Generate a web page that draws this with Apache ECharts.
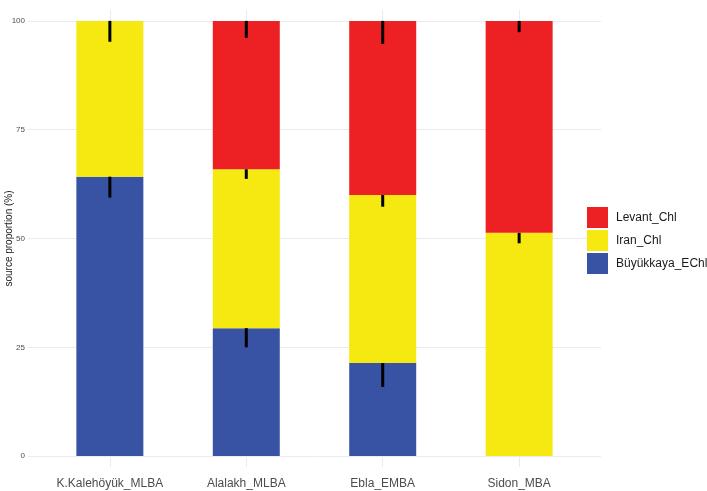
<!DOCTYPE html>
<html>
<head>
<meta charset="utf-8">
<script src="https://cdn.jsdelivr.net/npm/echarts@6/dist/echarts.min.js"></script>
<style>
  html, body { margin: 0; padding: 0; background: #fff; }
  #main { width: 707px; height: 491px; }
</style>
</head>
<body>
<div id="main"></div>
<script>
// 数据
const categories = ['K.Kalehöyük_MLBA', 'Alalakh_MLBA', 'Ebla_EMBA', 'Sidon_MBA'];
const buyukkaya = [64.2, 29.4, 21.4, 0];
const iran = [35.8, 36.5, 38.6, 51.3];
const levant = [0, 34.1, 40.0, 48.7];
// 误差线下端（累计值 - 标准误）
const errBuyukkaya = [59.4, 25.0, 15.9, null];
const errIran = [95.2, 63.7, 57.3, 48.9];
const errLevant = [null, 96.1, 94.7, 97.4];
const yTicks = [0, 25, 50, 75, 100];

const xPos = categories.map((c, i) => i + 1);
// 值放在第0列，让堆叠作用在y上
const pairs = arr => arr.map((v, i) => [v, xPos[i]]);

// 误差线数据: [x, 累计顶部, 下端]
const errData = [];
categories.forEach((c, i) => {
  const b = buyukkaya[i], ir = b + iran[i], lv = ir + levant[i];
  if (errBuyukkaya[i] != null) errData.push([xPos[i], b, errBuyukkaya[i]]);
  if (errIran[i] != null) errData.push([xPos[i], ir, errIran[i]]);
  if (errLevant[i] != null) errData.push([xPos[i], lv, errLevant[i]]);
});

const barSeries = (name, color, arr) => ({
  name: name, type: 'bar', stack: 'p', barWidth: 67,
  encode: { x: 1, y: 0 },
  itemStyle: { color: color },
  data: pairs(arr)
});

const myChart = echarts.init(document.getElementById('main'));
myChart.setOption({
  animation: false,
  textStyle: { fontFamily: 'Liberation Sans, Arial, sans-serif' },
  grid: { left: 28, right: 106, top: 10, bottom: 24, outerBoundsMode: 'none', containLabel: false },
  legend: {
    orient: 'vertical',
    left: 587,
    top: 207,
    itemWidth: 21,
    itemHeight: 21,
    itemGap: 2,
    icon: 'rect',
    backgroundColor: '#fff',
    padding: [0, 0, 0, 0],
    textStyle: { fontSize: 12, color: '#1a1a1a', padding: [0, 0, 0, 3] },
    data: ['Levant_Chl', 'Iran_Chl', 'Büyükkaya_EChl']
  },
  xAxis: {
    type: 'value',
    min: 0.4,
    max: 4.6,
    axisLine: { show: false },
    axisTick: { show: false, customValues: xPos },
    axisLabel: {
      customValues: xPos,
      fontSize: 12,
      color: '#4d4d4d',
      margin: 11,
      formatter: v => categories[Math.round(v) - 1] || ''
    },
    splitLine: { show: true, lineStyle: { color: '#ebebeb', width: 1 } }
  },
  yAxis: {
    type: 'value',
    min: -2.5,
    max: 102.5,
    name: 'source proportion (%)',
    nameLocation: 'middle',
    nameGap: 14,
    nameMoveOverlap: false,
    nameRotate: 90,
    nameTextStyle: { fontSize: 10, color: '#1a1a1a' },
    axisLine: { show: false },
    axisTick: { show: false, customValues: yTicks },
    axisLabel: { customValues: yTicks, fontSize: 8, color: '#4d4d4d', margin: 3 },
    splitLine: { show: true, lineStyle: { color: '#ebebeb', width: 1 } }
  },
  series: [
    barSeries('Büyükkaya_EChl', '#3953a4', buyukkaya),
    barSeries('Iran_Chl', '#f5e911', iran),
    barSeries('Levant_Chl', '#ed2024', levant),
    {
      type: 'custom',
      z: 10,
      renderItem: function (params, api) {
        const p1 = api.coord([api.value(0), api.value(1)]);
        const p2 = api.coord([api.value(0), api.value(2)]);
        return {
          type: 'line',
          shape: { x1: p1[0], y1: p1[1], x2: p2[0], y2: p2[1] },
          style: { stroke: '#000', lineWidth: 3 }
        };
      },
      data: errData
    }
  ]
});
</script>
</body>
</html>
